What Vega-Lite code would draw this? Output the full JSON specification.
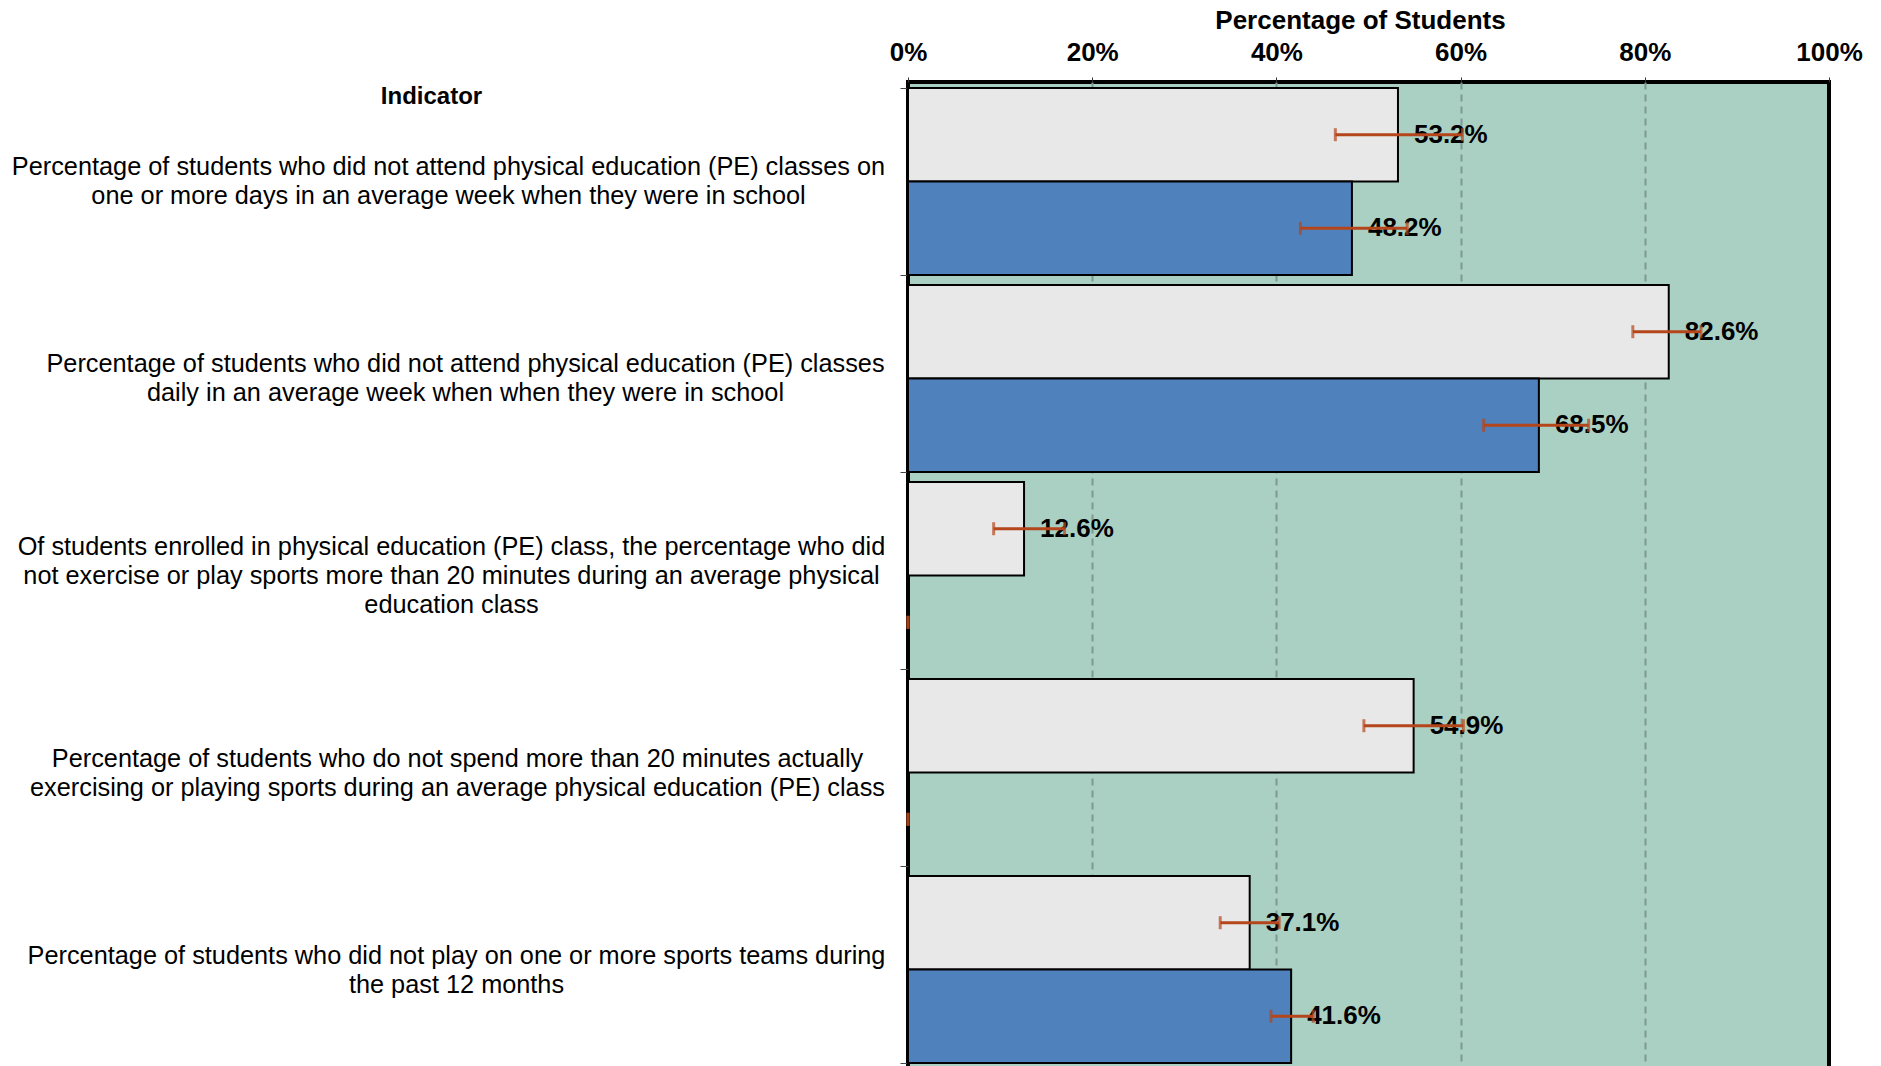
{
  "$schema": "https://vega.github.io/schema/vega-lite/v6.json",
  "autosize": {"type": "none"},
  "padding": {"left": 908, "top": 82, "right": 52, "bottom": 0},
  "width": 921,
  "height": 987,
  "background": "white",
  "config": {
    "font": "Liberation Sans",
    "view": {"fill": "#aad0c3", "stroke": "black", "strokeWidth": 4}
  },
  "data": {
    "values": [
      {"indicator": "Percentage of students who did not attend physical education (PE) classes on|one or more days in an average week when they were in school", "series": "Series 1", "value": 0.532, "lo": 0.464, "hi": 0.602},
      {"indicator": "Percentage of students who did not attend physical education (PE) classes on|one or more days in an average week when they were in school", "series": "Series 2", "value": 0.482, "lo": 0.426, "hi": 0.542},
      {"indicator": "Percentage of students who did not attend physical education (PE) classes|daily in an average week when when they were in school", "series": "Series 1", "value": 0.826, "lo": 0.787, "hi": 0.861},
      {"indicator": "Percentage of students who did not attend physical education (PE) classes|daily in an average week when when they were in school", "series": "Series 2", "value": 0.685, "lo": 0.625, "hi": 0.739},
      {"indicator": "Of students enrolled in physical education (PE) class, the percentage who did|not exercise or play sports more than 20 minutes during an average physical|education class", "series": "Series 1", "value": 0.126, "lo": 0.093, "hi": 0.170},
      {"indicator": "Of students enrolled in physical education (PE) class, the percentage who did|not exercise or play sports more than 20 minutes during an average physical|education class", "series": "Series 2", "value": null, "lo": 0, "hi": 0},
      {"indicator": "Percentage of students who do not spend more than 20 minutes actually|exercising or playing sports during an average physical education (PE) class", "series": "Series 1", "value": 0.549, "lo": 0.495, "hi": 0.603},
      {"indicator": "Percentage of students who do not spend more than 20 minutes actually|exercising or playing sports during an average physical education (PE) class", "series": "Series 2", "value": null, "lo": 0, "hi": 0},
      {"indicator": "Percentage of students who did not play on one or more sports teams during|the past 12 months", "series": "Series 1", "value": 0.371, "lo": 0.339, "hi": 0.403},
      {"indicator": "Percentage of students who did not play on one or more sports teams during|the past 12 months", "series": "Series 2", "value": 0.416, "lo": 0.394, "hi": 0.440}
    ]
  },
  "encoding": {
    "y": {
      "field": "indicator",
      "type": "nominal",
      "sort": null,
      "scale": {"paddingInner": 0.05, "paddingOuter": 0.03},
      "axis": {
        "orient": "left",
        "title": "Indicator",
        "titleAngle": 0,
        "titleX": -477,
        "titleY": 14,
        "titleAlign": "center",
        "titleBaseline": "middle",
        "titleFontSize": 24,
        "titleFontWeight": "bold",
        "titleColor": "black",
        "domain": false,
        "ticks": true,
        "tickBand": "extent",
        "tickSize": 8,
        "tickColor": "#444444",
        "tickWidth": 1,
        "labelExpr": "split(datum.label, '|')",
        "labelAlign": "center",
        "labelBaseline": {"condition": {"test": "isValid(datum) && isString(datum.value) && indexof(datum.value, 'Of students') >= 0", "value": "line-bottom"}, "value": "middle"},
        "labelFontSize": 25.3,
        "labelLineHeight": 29,
        "labelOffset": -14.5,
        "labelColor": "black",
        "labelLimit": 2000,
        "labelPadding": {
          "condition": [
            {"test": "isValid(datum) && isString(datum.value) && indexof(datum.value, 'classes on') >= 0", "value": 452},
            {"test": "isValid(datum) && isString(datum.value) && indexof(datum.value, 'daily in') >= 0", "value": 435},
            {"test": "isValid(datum) && isString(datum.value) && indexof(datum.value, 'Of students') >= 0", "value": 449},
            {"test": "isValid(datum) && isString(datum.value) && indexof(datum.value, 'do not spend') >= 0", "value": 443}
          ],
          "value": 444
        }
      }
    },
    "yOffset": {"field": "series", "type": "nominal", "sort": ["Series 1", "Series 2"], "scale": {"paddingInner": 0, "paddingOuter": 0}},
    "x": {
      "field": "value",
      "type": "quantitative",
      "scale": {"domain": [0, 1], "nice": false, "zero": true},
      "axis": {
        "orient": "top",
        "title": "Percentage of Students",
        "titleX": 452,
        "titleY": -62,
        "titleAlign": "center",
        "titleBaseline": "middle",
        "titleFontSize": 26,
        "titleFontWeight": "bold",
        "titleColor": "black",
        "format": ".0%",
        "values": [0, 0.2, 0.4, 0.6, 0.8, 1],
        "labelFontSize": 26,
        "labelFontWeight": "bold",
        "labelColor": "black",
        "labelPadding": 12,
        "labelFlush": false,
        "domain": false,
        "ticks": true,
        "tickSize": 5,
        "tickColor": "#333333",
        "grid": true,
        "gridColor": {"condition": {"test": "datum.value == 0 || datum.value == 1", "value": "transparent"}, "value": "#7d9990"},
        "gridDash": [7, 5],
        "gridWidth": 2
      }
    }
  },
  "layer": [
    {
      "mark": {"type": "bar", "stroke": "black", "strokeWidth": 2},
      "encoding": {
        "color": {"field": "series", "type": "nominal", "scale": {"domain": ["Series 1", "Series 2"], "range": ["#e8e8e8", "#4f81bd"]}, "legend": null}
      }
    },
    {
      "transform": [{"filter": "isValid(datum.value)"}],
      "mark": {"type": "text", "align": "left", "baseline": "middle", "dx": 16, "fontSize": 26, "fontWeight": "bold", "color": "black"},
      "encoding": {
        "text": {"field": "value", "type": "quantitative", "format": ".1%"}
      }
    },
    {
      "mark": {"type": "rule", "color": "#b5461b", "strokeWidth": 3},
      "encoding": {
        "x": {"field": "lo", "type": "quantitative"},
        "x2": {"field": "hi"}
      }
    },
    {
      "mark": {"type": "tick", "color": "#b5461b", "thickness": 3, "size": 13, "orient": "vertical"},
      "encoding": {
        "x": {"field": "lo", "type": "quantitative"}
      }
    },
    {
      "mark": {"type": "tick", "color": "#b5461b", "thickness": 3, "size": 13, "orient": "vertical"},
      "encoding": {
        "x": {"field": "hi", "type": "quantitative"}
      }
    }
  ]
}
